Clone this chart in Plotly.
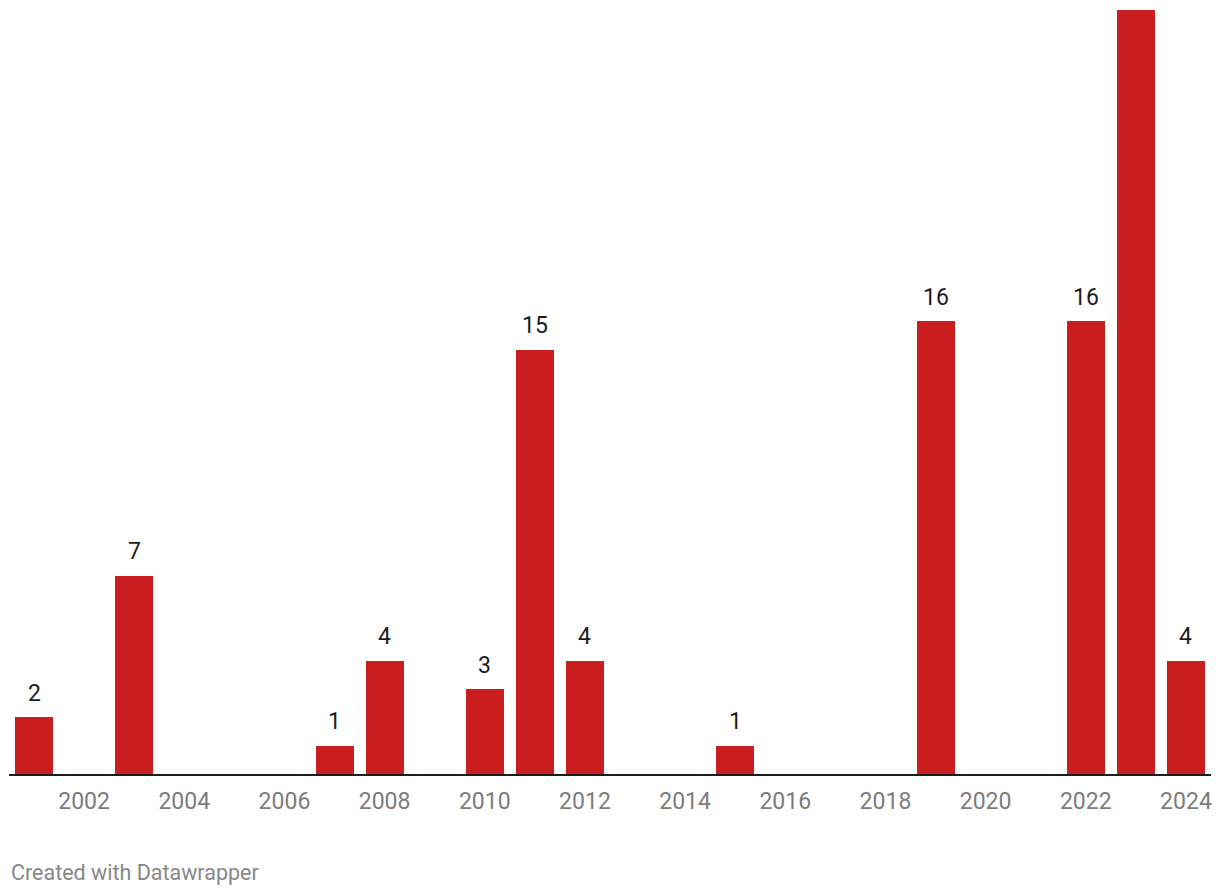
import plotly.graph_objects as go

years = [2001, 2003, 2007, 2008, 2010, 2011, 2012, 2015, 2019, 2022, 2023, 2024]
values = [2, 7, 1, 4, 3, 15, 4, 1, 16, 16, 27, 4]
tick_years = list(range(2002, 2025, 2))
tick_labels = [str(y) for y in tick_years]

BAR_COLOR = "#c91d1e"
FONT = "Roboto"

fig = go.Figure()
fig.add_trace(go.Bar(
    x=years, y=values, width=0.76,
    marker=dict(color=BAR_COLOR, line=dict(width=0)),
    hoverinfo="skip",
))

for x, v in zip(years, values):
    fig.add_annotation(
        x=x, y=v, text=str(v), showarrow=False,
        yanchor="middle", yshift=24,
        font=dict(family=FONT, size=23, color="#1d1d1d"),
    )

fig.add_annotation(
    xref="paper", yref="paper", x=0, y=0,
    xanchor="left", yanchor="middle",
    xshift=0, yshift=-98,
    text="Created with Datawrapper", showarrow=False,
    font=dict(family=FONT, size=21.5, color="#888888"),
)

fig.update_layout(
    width=1220, height=896,
    margin=dict(l=9, r=9, t=0, b=122, pad=0),
    paper_bgcolor="white", plot_bgcolor="white",
    showlegend=False,
    bargap=0,
    xaxis=dict(
        range=[2000.5, 2024.5],
        tickvals=tick_years, ticktext=tick_labels,
        showgrid=False, zeroline=False,
        showline=True, linecolor="#1d1d1d", linewidth=2,
        ticks="", ticklabelstandoff=5,
        tickfont=dict(family=FONT, size=23, color="#7c7c7c"),
        fixedrange=True,
    ),
    yaxis=dict(
        range=[0, 27.35], visible=False, fixedrange=True,
    ),
)

fig.write_html("out.html", config={"displayModeBar": False},
               post_script="document.body.style.margin='0';")
